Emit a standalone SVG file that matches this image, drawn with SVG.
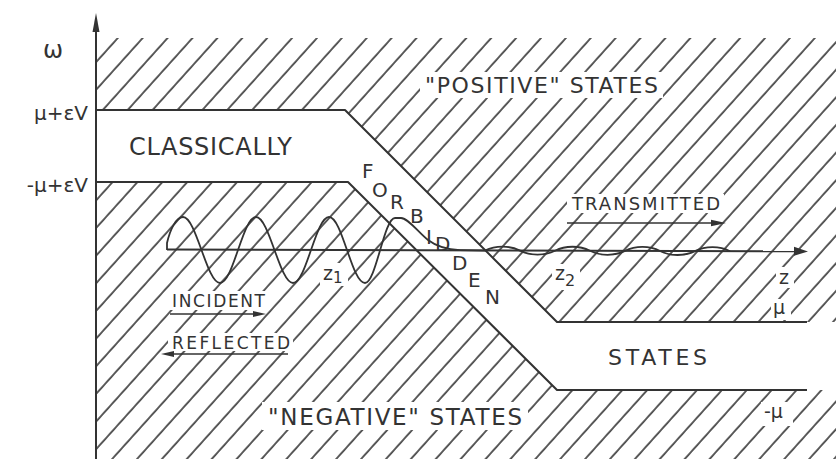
<svg xmlns="http://www.w3.org/2000/svg" width="836" height="459" viewBox="0 0 836 459">
<style>
.ln{stroke:#333;stroke-width:2;fill:none;stroke-linejoin:round}
.ax{stroke:#333;stroke-width:2;fill:none}
.thin{stroke:#333;stroke-width:1.6;fill:none}
.hd{fill:#333;stroke:none}
.t{font-family:"DejaVu Sans",sans-serif;fill:#333}
.wb{fill:#fff;stroke:none}
.wave{stroke:#333;stroke-width:1.8;fill:none;stroke-linejoin:round}
</style>
<defs>
<pattern id="hatch" width="18.5" height="20" patternUnits="userSpaceOnUse" patternTransform="rotate(42)">
<line x1="2" y1="-5" x2="2" y2="25" stroke="#333" stroke-width="1.6"/>
</pattern>
</defs>
<rect width="836" height="459" fill="#fff"/>
<g id="positive-states">
<polygon points="96,38 836,38 836,322 557,322 345,110 96,110" fill="url(#hatch)"/>
<rect class="wb" x="420" y="72" width="243" height="26"/>
<rect class="wb" x="567" y="194" width="157" height="19"/>
<rect class="wb" x="552" y="264" width="28" height="26"/>
<rect class="wb" x="776" y="267" width="18" height="21"/>
<rect class="wb" x="771" y="299" width="20" height="21"/>
</g>
<g id="negative-states">
<polygon points="96,182 348,182 557,390 836,390 836,459 96,459" fill="url(#hatch)"/>
<rect class="wb" x="168" y="291" width="100" height="19"/>
<rect class="wb" x="168" y="333" width="125" height="18"/>
<rect class="wb" x="320" y="263" width="28" height="23"/>
<rect class="wb" x="262" y="402" width="266" height="28"/>
<rect class="wb" x="761" y="402" width="32" height="24"/>
</g>
<g id="connectors">
<polyline class="ln" points="96,110 345,110 557,322 807,322"/>
<polyline class="ln" points="96,182 348,182 557,390 807,390"/>
<line class="ax" x1="96" y1="459" x2="96" y2="28"/>
<polygon class="hd" points="96,13 92.5,32 99.5,32"/>
<line class="ax" x1="167" y1="249.5" x2="798" y2="251.3"/>
<polygon class="hd" points="808,251.5 794,246.8 794,255.8"/>
<line class="thin" x1="567" y1="223" x2="714" y2="223"/>
<polygon class="hd" points="726,223 711,219.8 711,226.2"/>
<line class="thin" x1="170" y1="314" x2="256" y2="314"/>
<polygon class="hd" points="266,314 253,311 253,317"/>
<line class="thin" x1="172" y1="354" x2="288" y2="354"/>
<polygon class="hd" points="161,354 174,351 174,357"/>
</g>
<g id="wave">
<path class="wave" d="M167,250 L167,243 C170,230 176,217 183,217 C196.3,217 206.7,283 220,283 C233.3,283 242.7,217 256,217 C269.3,217 279.7,283 293,283 C306.3,283 315.7,217 329,217 C342.3,217 351.7,283 365,283 C376,283 384,218 395,218 L401,218 C408,218 418,232 428,240 C436,246 445,249.5 460,250.2 C470,250.5 478,250.6 485,250.6 C495.5,245.3 509.5,245.3 520,250.6 C530.5,255.9 544.5,255.9 555,250.7 C565.5,245.4 579.5,245.4 590,250.8 C600.5,256.1 614.5,256.1 625,250.9 C635.5,245.6 649.5,245.6 660,251 C670.5,256.3 684.5,256.3 695,251.1 C705.5,245.8 719.5,245.8 730,251.2"/>
</g>
<g id="labels">
<text class="t" x="43" y="58" font-size="24">ω</text>
<text class="t" x="88" y="120" font-size="20" text-anchor="end">μ+εV</text>
<text class="t" x="88" y="192" font-size="20" text-anchor="end">-μ+εV</text>
<text class="t" x="129" y="155" font-size="24" textLength="163" lengthAdjust="spacing">CLASSICALLY</text>
<text class="t" x="425" y="93" font-size="22" textLength="233" lengthAdjust="spacing">"POSITIVE" STATES</text>
<text class="t" x="572" y="210" font-size="18" textLength="148" lengthAdjust="spacing">TRANSMITTED</text>
<text class="t" x="608" y="365" font-size="22" textLength="99" lengthAdjust="spacing">STATES</text>
<text class="t" x="172" y="307" font-size="17" textLength="93" lengthAdjust="spacing">INCIDENT</text>
<text class="t" x="172" y="349" font-size="17" textLength="118" lengthAdjust="spacing">REFLECTED</text>
<text class="t" x="268" y="425" font-size="23" textLength="254" lengthAdjust="spacing">"NEGATIVE" STATES</text>
<text class="t" x="323" y="280" font-size="19">z<tspan font-size="15" dy="3">1</tspan></text>
<text class="t" x="555" y="280" font-size="19">z<tspan font-size="16" dy="6">2</tspan></text>
<text class="t" x="779" y="284" font-size="19">z</text>
<text class="t" x="773" y="314" font-size="19">μ</text>
<text class="t" x="764" y="418" font-size="19">-μ</text>
<g font-size="20" class="t">
<text class="t" x="362" y="178">F</text>
<text class="t" x="372" y="197">O</text>
<text class="t" x="390" y="209">R</text>
<text class="t" x="410" y="223">B</text>
<text class="t" x="426" y="244">I</text>
<text class="t" x="435" y="251">D</text>
<text class="t" x="452" y="270">D</text>
<text class="t" x="468" y="287">E</text>
<text class="t" x="485" y="304">N</text>
</g>
</g>
</svg>
